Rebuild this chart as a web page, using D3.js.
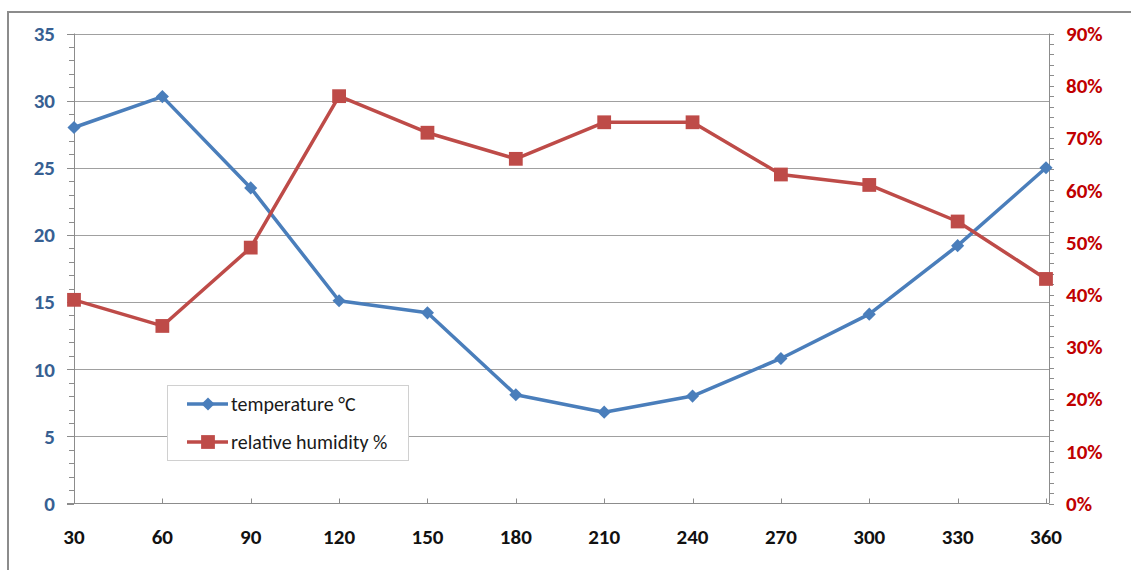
<!DOCTYPE html>
<html>
<head>
<meta charset="utf-8">
<script src="https://cdn.jsdelivr.net/npm/d3@7"></script>
<style>
  html, body { margin: 0; padding: 0; background: #fff; }
  svg { display: block; font-family: Carlito, Lato, "Open Sans", sans-serif; }
</style>
</head>
<body>
<svg id="chart" width="1131" height="570"></svg>
<script>
// Sampling angle (x categories)
const angles = [30, 60, 90, 120, 150, 180, 210, 240, 270, 300, 330, 360];
// Temperature in °C (left axis)
const temperature = [28.0, 30.3, 23.5, 15.1, 14.2, 8.1, 6.8, 8.0, 10.8, 14.1, 19.2, 25.0];
// Relative humidity in % (right axis)
const humidity = [39, 34, 49, 78, 71, 66, 73, 73, 63, 61, 54, 43];
// Axis tick values
const leftTicks = [0, 5, 10, 15, 20, 25, 30, 35];
const rightTicks = [0, 10, 20, 30, 40, 50, 60, 70, 80, 90];
const seriesNames = ["temperature °C", "relative humidity %"];

(function () {
const blue = "#4a7ebb", red = "#be4b48";
const axisFont = 21, legendFont = 20;
const svg = d3.select("#chart");

// Outer frame
svg.append("rect").attr("x", 8).attr("y", 12).attr("width", 1140).attr("height", 580)
  .attr("fill", "none").attr("stroke", "#8c8c8c").attr("stroke-width", 2);

const plotL = 74, plotR = 1049, plotT = 33.5, plotB = 503.5;
const x = d3.scalePoint().domain(angles).range([plotL, 1046]);
const yL = d3.scaleLinear().domain([0, 35]).range([plotB, plotT]);
const yR = d3.scaleLinear().domain([0, 90]).range([plotB, plotT]);
const snap = v => Math.round(v) + 0.5;

// Horizontal gridlines at major left ticks
svg.append("g").selectAll("line").data(leftTicks.filter(d => d > 0)).join("line")
  .attr("x1", plotL).attr("x2", plotR)
  .attr("y1", d => snap(yL(d))).attr("y2", d => snap(yL(d)))
  .attr("stroke", "#a0a0a0").attr("stroke-width", 1);

// Left axis: minor ticks each unit, major ticks each 5
const gL = svg.append("g");
gL.selectAll("line").data(d3.range(0, 36)).join("line")
  .attr("x1", d => d % 5 === 0 ? 67 : 69).attr("x2", plotL)
  .attr("y1", d => snap(yL(d))).attr("y2", d => snap(yL(d)))
  .attr("stroke", "#8c8c8c");
gL.append("line").attr("x1", plotL + 0.5).attr("x2", plotL + 0.5).attr("y1", plotT).attr("y2", plotB)
  .attr("stroke", "#8c8c8c");
gL.selectAll("text").data(leftTicks).join("text")
  .attr("x", 55).attr("y", d => yL(d)).attr("dy", "0.35em")
  .attr("text-anchor", "end").attr("font-size", axisFont).attr("font-weight", "bold")
  .attr("fill", "#376092").text(d => d);

// Right axis: minor ticks each 2%, labels each 10%
const gR = svg.append("g");
gR.selectAll("line").data(d3.range(0, 91, 2)).join("line")
  .attr("x1", plotR).attr("x2", 1054)
  .attr("y1", d => snap(yR(d))).attr("y2", d => snap(yR(d)))
  .attr("stroke", "#8c8c8c");
gR.append("line").attr("x1", plotR + 0.5).attr("x2", plotR + 0.5).attr("y1", plotT).attr("y2", plotB)
  .attr("stroke", "#8c8c8c");
gR.selectAll("text").data(rightTicks).join("text")
  .attr("x", 1066).attr("y", d => yR(d)).attr("dy", "0.35em")
  .attr("font-size", axisFont).attr("font-weight", "bold")
  .attr("fill", "#c00000").text(d => d + "%");

// Bottom axis
const gB = svg.append("g");
gB.append("line").attr("x1", 67).attr("x2", plotR).attr("y1", plotB).attr("y2", plotB)
  .attr("stroke", "#8c8c8c");
gB.selectAll("line").filter(".tick").data(angles.slice(1)).join("line").attr("class", "tick")
  .attr("x1", d => snap(x(d))).attr("x2", d => snap(x(d)))
  .attr("y1", plotB - 5).attr("y2", plotB).attr("stroke", "#8c8c8c");
gB.selectAll("text").data(angles).join("text")
  .attr("x", d => x(d)).attr("y", 537).attr("dy", "0.35em")
  .attr("text-anchor", "middle").attr("font-size", axisFont).attr("font-weight", "bold")
  .attr("fill", "#111").text(d => d);

// Series lines
const lineT = d3.line().x((d, i) => x(angles[i])).y(d => yL(d));
const lineH = d3.line().x((d, i) => x(angles[i])).y(d => yR(d));
svg.append("path").attr("d", lineT(temperature)).attr("fill", "none")
  .attr("stroke", blue).attr("stroke-width", 3.5).attr("stroke-linejoin", "round");
svg.append("path").attr("d", lineH(humidity)).attr("fill", "none")
  .attr("stroke", red).attr("stroke-width", 3.5).attr("stroke-linejoin", "round");

const diamond = d3.symbol().type(d3.symbolDiamond2).size(110);
const square = d3.symbol().type(d3.symbolSquare).size(190);
svg.append("g").selectAll("path").data(temperature).join("path")
  .attr("transform", (d, i) => `translate(${x(angles[i])},${yL(d)})`)
  .attr("d", diamond).attr("fill", blue);
svg.append("g").selectAll("path").data(humidity).join("path")
  .attr("transform", (d, i) => `translate(${x(angles[i])},${yR(d)})`)
  .attr("d", square).attr("fill", red);

// Legend
const lg = svg.append("g");
lg.append("rect").attr("x", 167.5).attr("y", 385.5).attr("width", 241).attr("height", 75)
  .attr("fill", "#fff").attr("stroke", "#d0d0d0");
const items = [
  { name: seriesNames[0], color: blue, sym: diamond, y: 404 },
  { name: seriesNames[1], color: red, sym: square, y: 442 }
];
items.forEach(it => {
  lg.append("line").attr("x1", 187).attr("x2", 228).attr("y1", it.y).attr("y2", it.y)
    .attr("stroke", it.color).attr("stroke-width", 3.5);
  lg.append("path").attr("transform", `translate(208,${it.y})`).attr("d", it.sym).attr("fill", it.color);
  lg.append("text").attr("x", 231).attr("y", it.y).attr("dy", "0.35em")
    .attr("font-size", legendFont).attr("fill", "#1a1a1a").text(it.name);
});
})();
</script>
</body>
</html>
